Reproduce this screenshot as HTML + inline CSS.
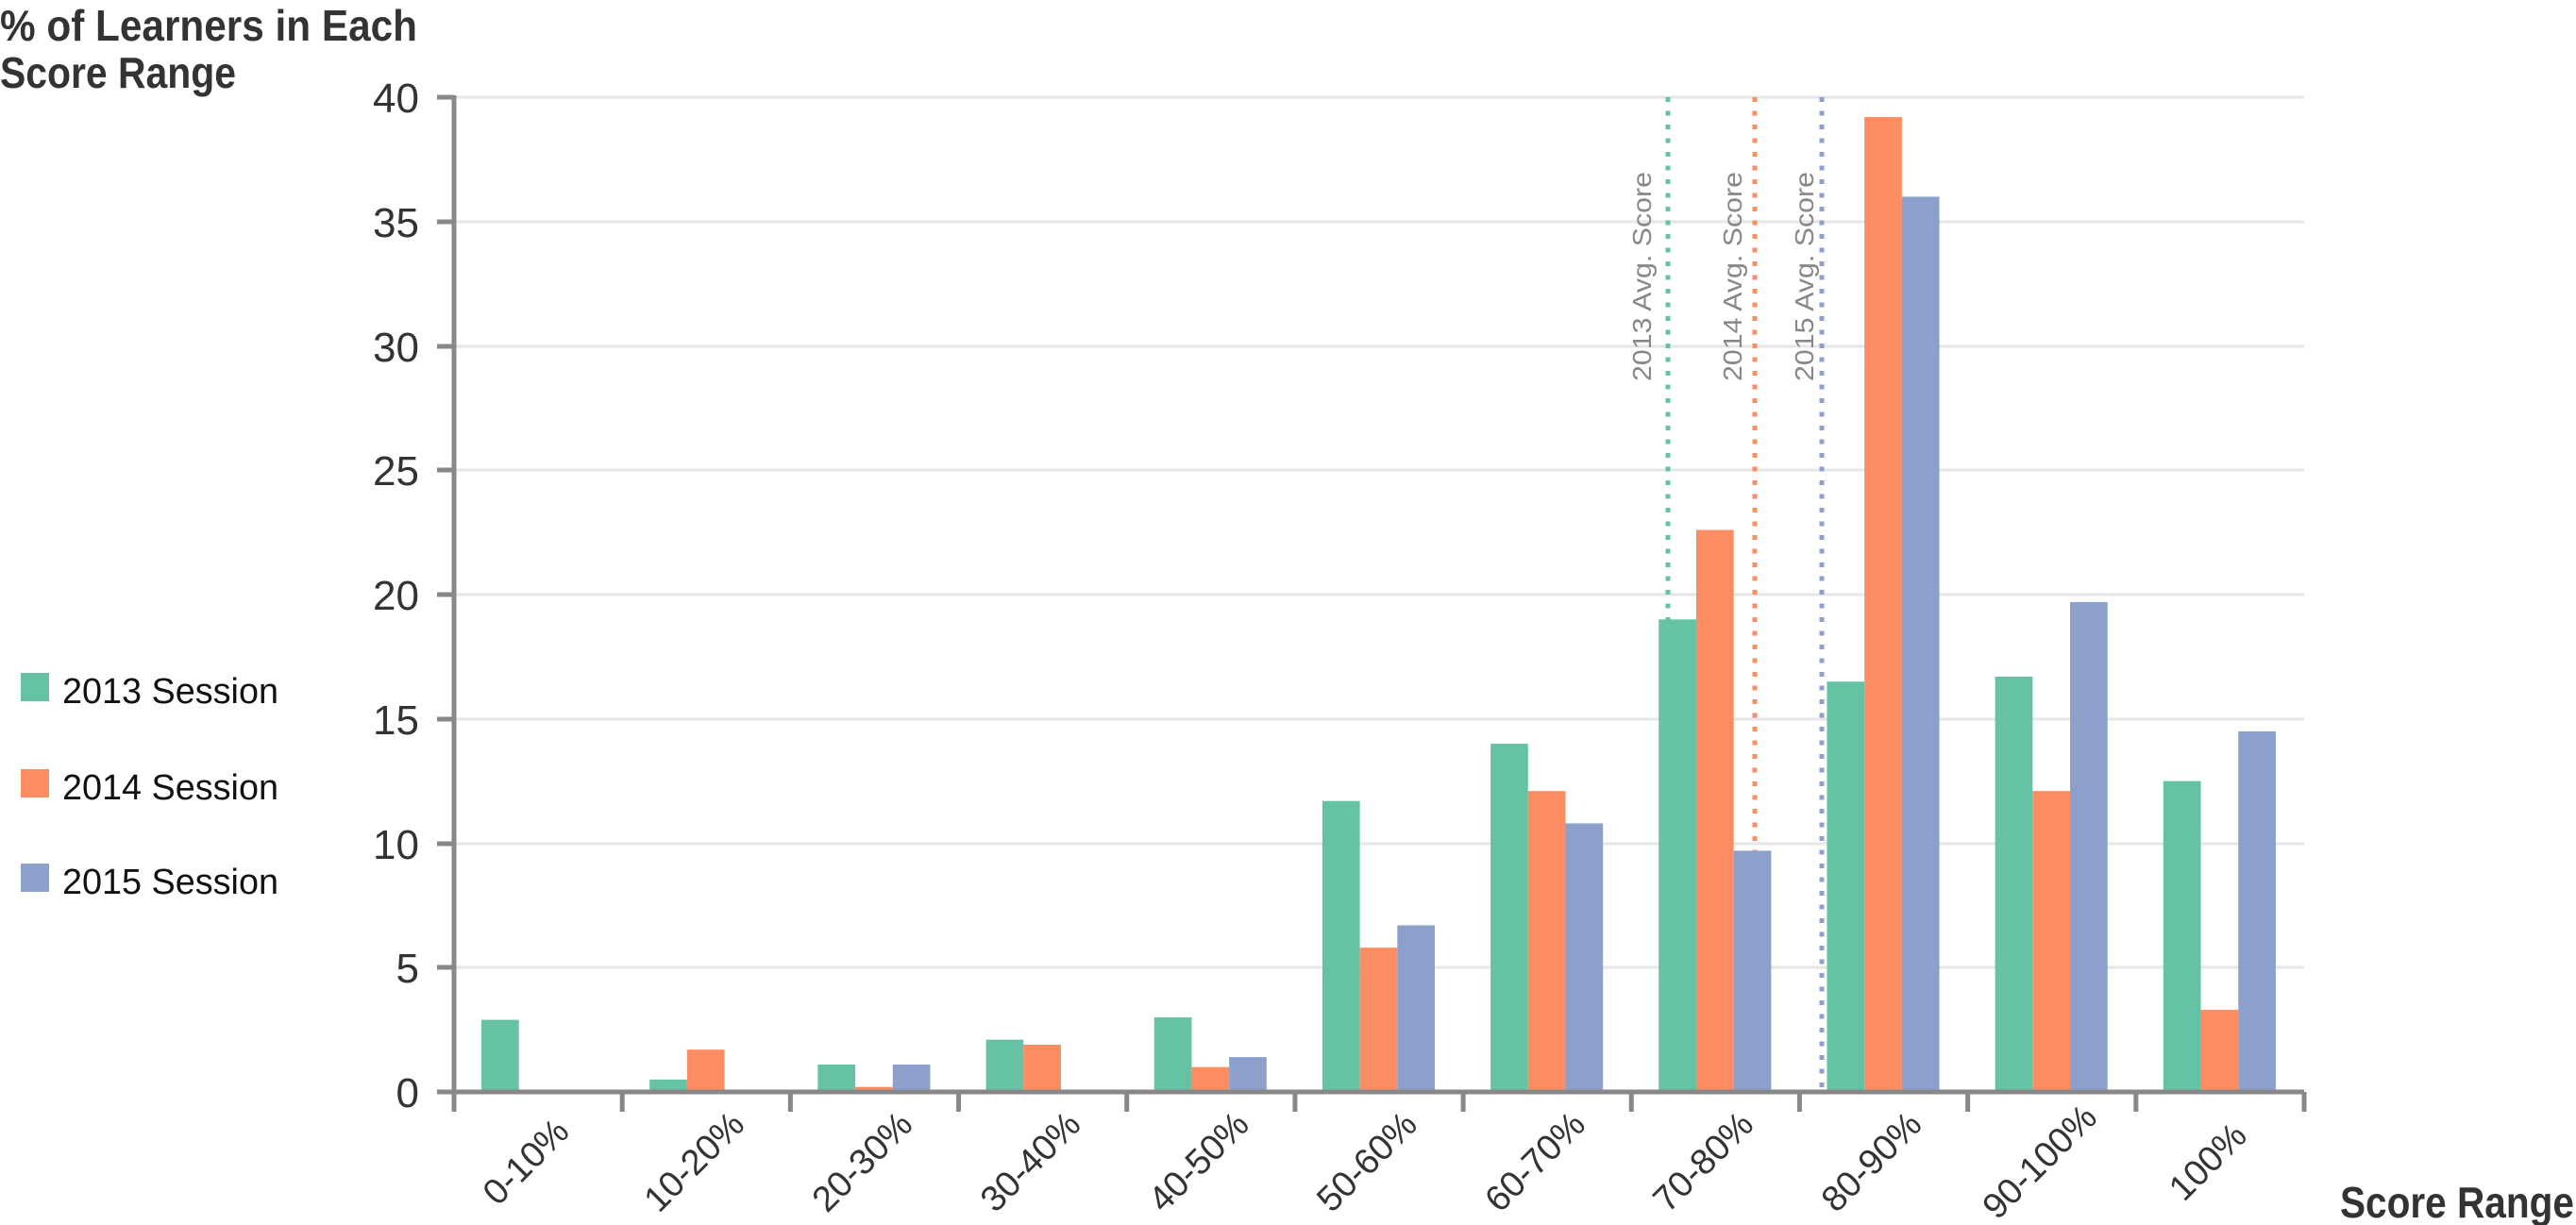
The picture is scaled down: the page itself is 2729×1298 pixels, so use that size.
<!DOCTYPE html>
<html><head><meta charset="utf-8"><style>html,body{margin:0;padding:0;background:#fff}svg{display:block}</style></head>
<body>
<svg width="2729" height="1298" viewBox="0 0 2729 1298" xmlns="http://www.w3.org/2000/svg" font-family="'Liberation Sans', sans-serif">
<g stroke="#e6e6e6" stroke-width="3">
<line x1="481" y1="103" x2="2441" y2="103"/>
<line x1="481" y1="235" x2="2441" y2="235"/>
<line x1="481" y1="367" x2="2441" y2="367"/>
<line x1="481" y1="498" x2="2441" y2="498"/>
<line x1="481" y1="630" x2="2441" y2="630"/>
<line x1="481" y1="762" x2="2441" y2="762"/>
<line x1="481" y1="894" x2="2441" y2="894"/>
<line x1="481" y1="1025" x2="2441" y2="1025"/>
</g>
<g stroke-width="5" stroke-dasharray="5 9.5">
<line x1="1767" y1="103" x2="1767" y2="1157" stroke="#66c2a5"/>
<line x1="1859" y1="103" x2="1859" y2="1157" stroke="#fc8d62"/>
<line x1="1930" y1="103" x2="1930" y2="1157" stroke="#8da0cb"/>
</g>
<g fill="#888" font-size="28">
<text transform="translate(1749,404) rotate(-90)" textLength="222" lengthAdjust="spacingAndGlyphs">2013 Avg. Score</text>
<text transform="translate(1845,404) rotate(-90)" textLength="222" lengthAdjust="spacingAndGlyphs">2014 Avg. Score</text>
<text transform="translate(1921,404) rotate(-90)" textLength="222" lengthAdjust="spacingAndGlyphs">2015 Avg. Score</text>
</g>
<g id="bars"></g>
<g stroke="#888" stroke-width="5" fill="none">
<line x1="481" y1="101" x2="481" y2="1178"/>
<line x1="463" y1="1157" x2="2441" y2="1157"/>
<line x1="463" y1="103" x2="481" y2="103"/>
<line x1="463" y1="235" x2="481" y2="235"/>
<line x1="463" y1="367" x2="481" y2="367"/>
<line x1="463" y1="498" x2="481" y2="498"/>
<line x1="463" y1="630" x2="481" y2="630"/>
<line x1="463" y1="762" x2="481" y2="762"/>
<line x1="463" y1="894" x2="481" y2="894"/>
<line x1="463" y1="1025" x2="481" y2="1025"/>
</g>
<g id="ticks" stroke="#888" stroke-width="5"></g>
<g fill="#333" font-size="44" text-anchor="end">
<text x="444" y="119">40</text><text x="444" y="251">35</text><text x="444" y="383">30</text>
<text x="444" y="514">25</text><text x="444" y="646">20</text><text x="444" y="778">15</text>
<text x="444" y="910">10</text><text x="444" y="1041">5</text><text x="444" y="1173">0</text>
</g>
<g id="xl" fill="#333" font-size="38" text-anchor="middle"></g>
<g fill="#333" font-weight="bold" font-size="46">
<text x="0" y="43" textLength="442" lengthAdjust="spacingAndGlyphs">% of Learners in Each</text>
<text x="0" y="93" textLength="250" lengthAdjust="spacingAndGlyphs">Score Range</text>
<text x="2479" y="1290" textLength="248" lengthAdjust="spacingAndGlyphs">Score Range</text>
</g>
<rect x="22" y="713" width="30" height="30" fill="#66c2a5"/>
<rect x="22" y="815" width="30" height="30" fill="#fc8d62"/>
<rect x="22" y="915" width="30" height="30" fill="#8da0cb"/>
<g fill="#111" font-size="38">
<text x="66" y="745" textLength="229" lengthAdjust="spacingAndGlyphs">2013 Session</text>
<text x="66" y="847" textLength="229" lengthAdjust="spacingAndGlyphs">2014 Session</text>
<text x="66" y="947" textLength="229" lengthAdjust="spacingAndGlyphs">2015 Session</text>
</g>
<script>
var d=[[2.9,0,0],[0.5,1.7,0],[1.1,0.2,1.1],[2.1,1.9,0.05],[3.0,1.0,1.4],[11.7,5.8,6.7],[14,12.1,10.8],[19,22.6,9.7],[16.5,39.2,36],[16.7,12.1,19.7],[12.5,3.3,14.5]];
var labs=["0-10%","10-20%","20-30%","30-40%","40-50%","50-60%","60-70%","70-80%","80-90%","90-100%","100%"];
var c=["#66c2a5","#fc8d62","#8da0cb"],ns="http://www.w3.org/2000/svg";
var w=(2441-481)/11,b=document.getElementById("bars"),t=document.getElementById("ticks"),xl=document.getElementById("xl");
for(var i=0;i<11;i++){var x0=481+i*w;
for(var j=0;j<3;j++){var h=d[i][j]*26.35;if(h<=0)continue;var r=document.createElementNS(ns,"rect");
r.setAttribute("x",x0+29+j*39.7);r.setAttribute("y",1157-h);r.setAttribute("width",39.7);r.setAttribute("height",h);r.setAttribute("fill",c[j]);b.appendChild(r);}
var tx=document.createElementNS(ns,"text");var cx=x0+w/2-4,cy=1240;
tx.setAttribute("transform","translate("+cx+","+cy+") rotate(-45)");tx.textContent=labs[i];xl.appendChild(tx);}
for(var k=0;k<=11;k++){var l=document.createElementNS(ns,"line");var x=481+k*w;l.setAttribute("x1",x);l.setAttribute("x2",x);l.setAttribute("y1",1157);l.setAttribute("y2",1178);t.appendChild(l);}
</script>
</svg>
</body></html>
